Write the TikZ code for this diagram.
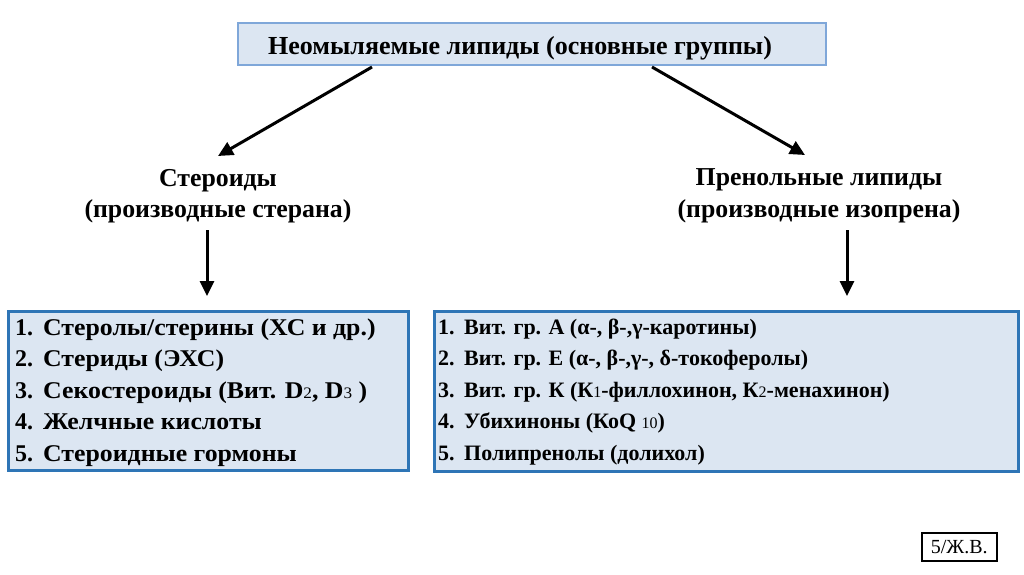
\documentclass[tikz,border=0pt]{standalone}
\usepackage{fontspec}
\setmainfont{Liberation Serif}
\usetikzlibrary{arrows.meta,calc}
\definecolor{boxfill}{HTML}{DCE6F2}
\definecolor{topline}{HTML}{7FA7D9}
\definecolor{listline}{HTML}{2E75B6}
\newcommand{\lsub}[1]{{\normalfont\fontsize{16}{16}\selectfont #1}}
\newcommand{\rnum}[1]{\makebox[26pt][l]{#1}}
\newcommand{\lnum}[1]{\makebox[28pt][l]{#1}}
\newcommand{\wide}[1]{\scalebox{1.075}[1]{#1}}
\begin{document}
\begin{tikzpicture}[x=1pt,y=-1pt,
  topbox/.style={draw=topline, line width=1.5pt, fill=boxfill, anchor=north west, inner sep=0pt},
  listbox/.style={draw=listline, line width=3pt, fill=boxfill, anchor=north west, inner sep=0pt},
  heading/.style={font=\bfseries\fontsize{26}{30}\selectfont},
  label/.style={font=\bfseries\fontsize{25.8}{31.5}\selectfont, align=center, inner sep=0pt},
  litem/.style={font=\bfseries\fontsize{24}{28}\selectfont, anchor=base west, inner sep=0pt},
  ritem/.style={font=\bfseries\fontsize{22}{28}\selectfont, anchor=base west, inner sep=0pt},
  arr/.style={line width=3pt, -{Triangle[length=15pt,width=14pt]}},
  tagbox/.style={draw=black, line width=1.5pt, fill=white, anchor=north west, minimum width=75pt, minimum height=28pt, inner sep=0pt, font=\fontsize{20}{22}\selectfont}
]
\useasboundingbox (0,0) rectangle (1024,574);

% top box
\node[topbox, minimum width=588pt, minimum height=42pt] (top) at (237,22) {};
\node[heading, anchor=base west, inner sep=0pt] (toptxt) at (268,54) {Неомыляемые липиды (основные группы)};

% middle labels
\node[label] (ster) at (218,196) {Стероиды\\(производные стерана)};
\node[label] (pren) at (819,196) {Пренольные липиды\\(производные изопрена)};

% list boxes
\node[listbox, minimum width=400pt, minimum height=159pt] (lbox) at (6.5,309.5) {};
\node[listbox, minimum width=584pt, minimum height=160pt] (rbox) at (432.5,309.5) {};

% left items
\node[litem] (l1) at (15,335) {\lnum{1.}\wide{Стеролы/стерины (ХС и др.)}};
\node[litem] (l2) at (15,366.5) {\lnum{2.}\wide{Стериды (ЭХС)}};
\node[litem] (l3) at (15,398) {\lnum{3.}\wide{Секостероиды (Вит. D\lsub{2}, D\lsub{3} )}};
\node[litem] (l4) at (15,429.5) {\lnum{4.}\wide{Желчные кислоты}};
\node[litem] (l5) at (15,461) {\lnum{5.}\wide{Стероидные гормоны}};

% right items
\node[ritem] (r1) at (438,334) {\rnum{1.}Вит. гр. А (α-, β-,γ-каротины)};
\node[ritem] (r2) at (438,365.5) {\rnum{2.}Вит. гр. Е (α-, β-,γ-, δ-токоферолы)};
\node[ritem] (r3) at (438,397) {\rnum{3.}Вит. гр. К (К\lsub{1}-филлохинон, К\lsub{2}-менахинон)};
\node[ritem] (r4) at (438,428.5) {\rnum{4.}Убихиноны (КоQ \lsub{10})};
\node[ritem] (r5) at (438,460) {\rnum{5.}Полипренолы (долихол)};

% tag
\node[tagbox] (tag) at (921,532) {5/Ж.В.};

% arrow end points
\coordinate (a1s) at (372,67);
\coordinate (a1e) at (218,156);
\coordinate (a2s) at (652,67);
\coordinate (a2e) at (805,155);
\coordinate (a3s) at (207,230);
\coordinate (a3e) at (207,296);
\coordinate (a4s) at (847,230);
\coordinate (a4e) at (847,296);
\draw[arr] (a1s) -- (a1e);
\draw[arr] (a2s) -- (a2e);
\draw[arr] (a3s) -- (a3e);
\draw[arr] (a4s) -- (a4e);
\end{tikzpicture}
\end{document}
